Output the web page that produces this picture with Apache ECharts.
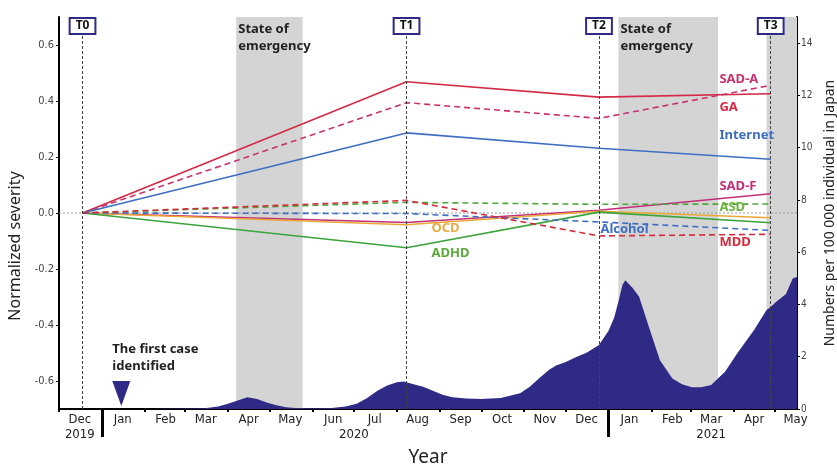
<!DOCTYPE html>
<html><head><meta charset="utf-8">
<script src="https://cdn.jsdelivr.net/npm/echarts@6/dist/echarts.min.js"></script>
<style>html,body{margin:0;padding:0;background:#fff}#c{width:837px;height:465px}</style>
</head><body><div id="c"></div>
<script>
// ---------- data ----------
const tLabels = ['T0', 'T1', 'T2', 'T3'];
const tDates = ['2019-12-18', '2020-08-08', '2020-12-25', '2021-04-28'];

const GA       = [0, 0.469, 0.414, 0.426];
const SAD_A    = [0, 0.394, 0.338, 0.456];
const Internet = [0, 0.286, 0.231, 0.192];
const SAD_F    = [0, -0.034, 0.010, 0.069];
const ASD      = [0, 0.038, 0.031, 0.032];
const OCD      = [0, -0.042, 0.006, -0.017];
const ADHD     = [0, -0.124, 0.003, -0.035];
const Alcohol  = [0, -0.002, -0.032, -0.062];
const MDD      = [0, 0.045, -0.082, -0.076];

const emergencyStart = ['2020-04-07', '2021-01-08', '2021-04-25'];
const emergencyEnd   = ['2020-05-25', '2021-03-21', '2021-05-17'];
const emergencyText  = ['State of\nemergency', 'State of\nemergency', ''];

const caseDates = ['2020-01-15','2020-02-01','2020-02-15','2020-03-01','2020-03-15','2020-03-25','2020-04-01','2020-04-08','2020-04-15','2020-04-22','2020-04-29','2020-05-06','2020-05-13','2020-05-20','2020-06-01','2020-06-15','2020-06-25','2020-07-03','2020-07-10','2020-07-18','2020-07-25','2020-08-01','2020-08-06','2020-08-13','2020-08-20','2020-08-27','2020-09-03','2020-09-10','2020-09-20','2020-10-01','2020-10-15','2020-10-29','2020-11-05','2020-11-12','2020-11-19','2020-11-24','2020-12-01','2020-12-09','2020-12-16','2020-12-25','2021-01-01','2021-01-05','2021-01-08','2021-01-11','2021-01-13','2021-01-18','2021-01-23','2021-01-30','2021-02-07','2021-02-16','2021-02-23','2021-03-02','2021-03-09','2021-03-16','2021-03-26','2021-04-04','2021-04-16','2021-04-25','2021-04-28','2021-05-02','2021-05-09','2021-05-14','2021-05-17'];
const caseValues = [0,0,0.01,0.02,0.03,0.1,0.2,0.33,0.45,0.38,0.25,0.14,0.07,0.04,0.03,0.04,0.1,0.2,0.4,0.7,0.9,1.02,1.05,0.95,0.85,0.7,0.55,0.45,0.4,0.38,0.42,0.6,0.85,1.19,1.5,1.66,1.8,2.0,2.15,2.45,3.0,3.5,4.1,4.75,4.93,4.65,4.3,3.15,1.87,1.17,0.95,0.83,0.83,0.92,1.43,2.14,3.02,3.79,3.9,4.1,4.4,5.0,5.05];

const firstCase = '2020-01-15';
const monthNames = ['Jan','Feb','Mar','Apr','May','Jun','Jul','Aug','Sep','Oct','Nov','Dec'];
const yearLabelDates = ['2019-12-16', '2020-07-01', '2021-03-16'];
const yearSeparators = ['2020-01-01', '2021-01-01'];
const leftTicks = [-0.6, -0.4, -0.2, 0.0, 0.2, 0.4, 0.6];
const rightTicks = [0, 2, 4, 6, 8, 10, 12, 14];

// ---------- helpers ----------
function d(s) { const p = s.split('-').map(Number); return new Date(p[0], p[1] - 1, p[2]).getTime(); }
const xMin = d('2019-12-01'), xMax = d('2021-05-17');
const monthStarts = [], monthMids = [];
for (let y = 2019, m = 11; y < 2021 || m <= 4; ) {
  monthStarts.push(new Date(y, m, 1).getTime());
  monthMids.push(new Date(y, m, 16).getTime());
  m++; if (m > 11) { m = 0; y++; }
}
const NARROW = '"Liberation Sans Narrow", "DejaVu Sans Condensed", sans-serif';
const SANS = '"Noto Sans", "Open Sans", sans-serif';

function lineSeries(name, vals, color, dashed, lbl) {
  return {
    name, type: 'line', z: 4, symbol: 'none', silent: true,
    data: vals.map((v, i) => [d(tDates[i]), v]),
    lineStyle: { color, width: 1.6, type: dashed ? [6, 4] : 'solid' },
    markPoint: {
      symbol: 'circle', symbolSize: 0, silent: true,
      data: [{ coord: [d(lbl.at), lbl.v] }],
      label: { show: true, formatter: name, position: 'inside', align: 'left', verticalAlign: 'middle',
               color: lbl.color || color, fontFamily: SANS, fontWeight: 'bold', fontSize: 13 }
    }
  };
}

const chart = echarts.init(document.getElementById('c'));
chart.setOption({
  animation: false,
  grid: { left: 59, right: 40, top: 17, bottom: 56, containLabel: false, outerBoundsMode: 'none' },
  xAxis: [{
    type: 'value', min: xMin, max: xMax, position: 'bottom',
    name: 'Year', nameLocation: 'middle', nameGap: 39,
    nameTextStyle: { fontFamily: SANS, fontSize: 19, color: '#222' },
    axisLine: { show: true, onZero: false, lineStyle: { color: '#000', width: 2 } },
    axisTick: { show: true, customValues: monthStarts, length: 3, lineStyle: { color: '#000', width: 2 } },
    axisLabel: { show: true, customValues: monthMids, margin: 4, fontFamily: NARROW, fontSize: 13, color: '#222',
                 formatter: v => monthNames[new Date(v).getMonth()] },
    splitLine: { show: false }
  }, {
    type: 'value', min: xMin, max: xMax, position: 'bottom',
    axisLine: { show: false, onZero: false },
    axisTick: { show: true, customValues: yearSeparators.map(d), length: 28, lineStyle: { color: '#000', width: 3 } },
    axisLabel: { show: true, customValues: yearLabelDates.map(d), margin: 19, fontFamily: NARROW, fontSize: 13, color: '#222',
                 formatter: v => String(new Date(v).getFullYear()) },
    splitLine: { show: false }
  }],
  yAxis: [{
    type: 'value', min: -0.7, max: 0.7, position: 'left',
    name: 'Normalized severity', nameLocation: 'middle', nameGap: 32,
    nameTextStyle: { fontFamily: SANS, fontSize: 16, color: '#222', padding: [0, 66, 0, 0] },
    axisLine: { show: true, onZero: false, lineStyle: { color: '#000', width: 2 } },
    axisTick: { show: true, customValues: leftTicks, length: 3, lineStyle: { color: '#000' } },
    axisLabel: { customValues: leftTicks, margin: 5, fontFamily: NARROW, fontSize: 11, color: '#444',
                 formatter: v => v.toFixed(1) },
    splitLine: { show: false }
  }, {
    type: 'value', min: 0, max: 15, position: 'right',
    name: 'Numbers per 100 000 individual in Japan', nameLocation: 'middle', nameGap: 23, nameRotate: 90,
    nameTextStyle: { fontFamily: SANS, fontSize: 14, color: '#222' },
    axisLine: { show: true, onZero: false, lineStyle: { color: '#000', width: 2 } },
    axisTick: { show: true, customValues: rightTicks, length: 3, lineStyle: { color: '#000' } },
    axisLabel: { customValues: rightTicks, margin: 4, fontFamily: NARROW, fontSize: 10, color: '#444' },
    splitLine: { show: false }
  }],
  series: [
    { // emergency bands
      name: 'emergency', type: 'line', z: 1, data: [[xMin, 0]], symbol: 'none', silent: true,
      lineStyle: { width: 0 },
      markArea: {
        silent: true,
        itemStyle: { color: '#d4d4d4' },
        label: { show: true, position: 'insideTopLeft', distance: 4, offset: [-2, 0], color: '#222',
                 fontFamily: SANS, fontWeight: 'bold', fontSize: 13, lineHeight: 17 },
        data: emergencyStart.map((s, i) => [
          { xAxis: d(s), yAxis: 0.7, name: emergencyText[i] },
          { xAxis: d(emergencyEnd[i]), yAxis: -0.7 }
        ])
      }
    },
    { // COVID cases
      name: 'cases', type: 'line', z: 2, yAxisIndex: 1, symbol: 'none', silent: true,
      data: caseDates.map((s, i) => [d(s), caseValues[i]]),
      lineStyle: { width: 0 }, itemStyle: { color: '#2e2a86' },
      areaStyle: { color: '#2e2a86', opacity: 1 },
      markPoint: {
        silent: true, symbol: 'triangle', symbolRotate: 180, symbolSize: [18, 25],
        itemStyle: { color: '#2e2a86' },
        data: [{ coord: [d(firstCase), 0.59] }],
        label: { show: true, formatter: 'The first case\nidentified', position: 'top', align: 'left', offset: [-9, -2],
                 distance: 4, color: '#222', fontFamily: SANS, fontWeight: 'bold', fontSize: 13, lineHeight: 17 }
      }
    },
    { // zero reference + time points
      name: 'zero', type: 'line', z: 3, symbol: 'none', silent: true,
      data: [[xMin, 0], [xMax, 0]],
      lineStyle: { color: '#999', width: 1, type: [2, 2] },
      markLine: {
        silent: true, symbol: 'none', label: { show: false },
        lineStyle: { color: '#444', width: 1, type: [3, 2] },
        data: tDates.map(s => ({ xAxis: d(s) }))
      },
      markPoint: {
        silent: true, symbol: 'rect', symbolSize: 0,
        data: tDates.map((s, i) => ({ coord: [d(s), 0.7], name: tLabels[i] })),
        label: { show: true, formatter: p => p.name, position: 'inside', offset: [0, 9],
                 backgroundColor: '#fff', borderColor: '#2e2a86', borderWidth: 2, padding: [1, 5, 0, 5],
                 color: '#111', fontFamily: SANS, fontWeight: 'bold', fontSize: 12, lineHeight: 13 }
      }
    },
    lineSeries('GA', GA, '#d42a45', false, { at: '2021-03-22', v: 0.376 }),
    lineSeries('SAD-A', SAD_A, '#c8326e', true, { at: '2021-03-22', v: 0.477 }),
    lineSeries('Internet', Internet, '#3d6ec2', false, { at: '2021-03-22', v: 0.277 }),
    lineSeries('SAD-F', SAD_F, '#c22f78', false, { at: '2021-03-22', v: 0.096 }),
    lineSeries('ASD', ASD, '#4fa83a', true, { at: '2021-03-22', v: 0.019, color: '#6cb540' }),
    lineSeries('OCD', OCD, '#eaa838', false, { at: '2020-08-26', v: -0.056, color: '#e9ab47' }),
    lineSeries('ADHD', ADHD, '#3ba43c', false, { at: '2020-08-26', v: -0.144, color: '#5aa83a' }),
    lineSeries('Alcohol', Alcohol, '#3d6ec2', true, { at: '2020-12-26', v: -0.058 }),
    lineSeries('MDD', MDD, '#d8283c', true, { at: '2021-03-22', v: -0.106 })
  ]
});
</script>
</body></html>
